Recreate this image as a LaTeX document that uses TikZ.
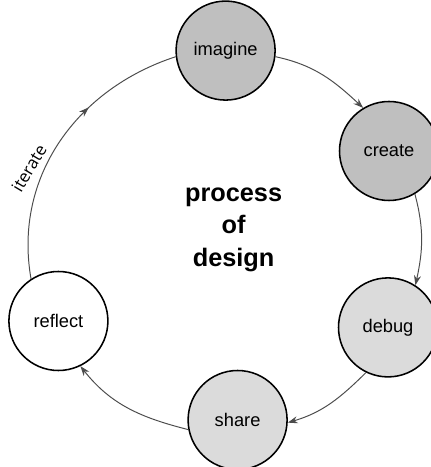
\documentclass[tikz,border=0pt]{standalone}
\usepackage{fontspec}
\setmainfont{Liberation Sans}
\newfontfamily\iteratefont{Open Sans}
\usetikzlibrary{arrows.meta,decorations.markings}

\begin{document}
\begin{tikzpicture}[
	stage/.style={circle, draw=black, line width=1.1pt, minimum size=2.475cm, inner sep=0, font=\fontsize{13}{15}\selectfont},
	cycle/.style={draw=black!70, line width=0.7pt, -{Stealth[length=7pt, width=5pt]}},
	midarrow/.style={-, postaction={decorate}, decoration={markings, mark=at position 0.65 with {\arrow{Stealth[length=7pt, width=5pt]}}}}
]
	\useasboundingbox (0, 0) rectangle (10.75, 11.675);
	% Stages:
	\draw node[stage, fill=black!25] (N1) at (5.64, 10.41) {imagine};
	\draw node[stage, fill=black!25] (N2) at (9.725, 7.9) {create};
	\draw node[stage, fill=black!14] (N3) at (9.7, 3.49) {debug};
	\draw node[stage, fill=black!14] (N4) at (5.94, 1.175) {share};
	\draw node[stage, fill=white] (N5) at (1.46, 3.65) {reflect};
	% Cycle arcs:
	\draw[cycle] (N1.-7.5) to[out=-12, in=137] (N2.121.5);
	\draw[cycle] (N2.-59.4) to[out=-75, in=77.6] (N3.57);
	\draw[cycle] (N3.244.2) to[out=224.6, in=16.4] (N4.-3.4);
	\draw[cycle] (N4.191.4) to[out=165.9, in=308.4] (N5.-64.5);
	\draw[cycle, midarrow] (N5.123) to[out=100, in=198] (N1.187);
	% Labels:
	\node[rotate=59, font=\iteratefont\fontsize{12}{14}\selectfont] (Text1) at (0.725, 7.475) {iterate};
	\node[align=center, font=\bfseries\fontsize{18}{23}\selectfont] (Text2) at (5.84, 5.93) {process\\of\\design};
\end{tikzpicture}
\end{document}
